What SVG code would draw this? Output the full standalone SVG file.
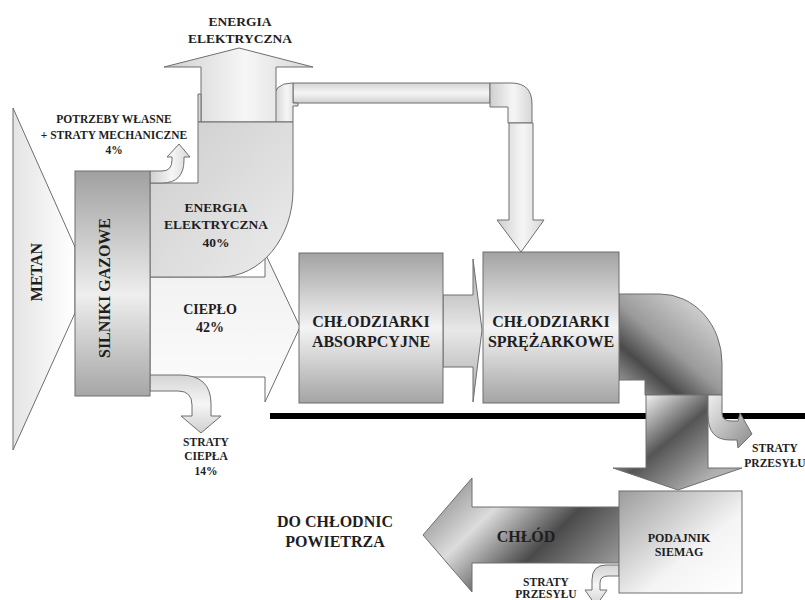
<svg xmlns="http://www.w3.org/2000/svg" width="805" height="600" viewBox="0 0 805 600">
<style>
text{font-family:"Liberation Serif","DejaVu Serif",serif;font-weight:bold;fill:#1e1e1e;text-anchor:middle}
.s{stroke:#6e6e6e;stroke-width:1}
.t11{font-size:11.5px}
.t12{font-size:12px}
.t13{font-size:13.5px}
.t14{font-size:14px}
.t16{font-size:16px}
</style>
<defs>
<linearGradient id="gBox" x1="0" y1="0" x2="0" y2="1">
<stop offset="0" stop-color="#a2a2a2"/><stop offset="0.5" stop-color="#f4f4f4"/><stop offset="1" stop-color="#a4a4a4"/>
</linearGradient>
<linearGradient id="gSil" x1="0" y1="0" x2="0" y2="1">
<stop offset="0" stop-color="#a0a0a0"/><stop offset="0.55" stop-color="#eeeeee"/><stop offset="1" stop-color="#a6a6a6"/>
</linearGradient>
<linearGradient id="gMet" x1="0" y1="0" x2="1" y2="0">
<stop offset="0" stop-color="#e4e4e4"/><stop offset="1" stop-color="#ffffff"/>
</linearGradient>
<linearGradient id="gLightH" x1="0" y1="0" x2="1" y2="0">
<stop offset="0" stop-color="#cfcfcf"/><stop offset="0.55" stop-color="#f6f6f6"/><stop offset="1" stop-color="#d6d6d6"/>
</linearGradient>
<linearGradient id="gLightV" x1="0" y1="0" x2="0" y2="1">
<stop offset="0" stop-color="#d4d4d4"/><stop offset="0.5" stop-color="#f6f6f6"/><stop offset="1" stop-color="#d0d0d0"/>
</linearGradient>
<linearGradient id="gQuarter" x1="0" y1="0" x2="1" y2="1">
<stop offset="0" stop-color="#cdcdcd"/><stop offset="1" stop-color="#ececec"/>
</linearGradient>
<linearGradient id="gHeat" x1="0" y1="0" x2="0" y2="1">
<stop offset="0" stop-color="#f0f0f0"/><stop offset="1" stop-color="#fcfcfc"/>
</linearGradient>
<linearGradient id="gMid" x1="0" y1="0" x2="0" y2="1">
<stop offset="0" stop-color="#a8a8a8"/><stop offset="0.5" stop-color="#e8e8e8"/><stop offset="1" stop-color="#a8a8a8"/>
</linearGradient>
<linearGradient id="gElbow" gradientUnits="userSpaceOnUse" x1="640" y1="395" x2="720" y2="300">
<stop offset="0" stop-color="#8c8c8c"/><stop offset="0.2" stop-color="#4a4a4a"/><stop offset="0.45" stop-color="#9a9a9a"/><stop offset="1" stop-color="#e2e2e2"/>
</linearGradient>
<linearGradient id="gDown" gradientUnits="userSpaceOnUse" x1="646" y1="395" x2="712" y2="475">
<stop offset="0" stop-color="#f2f2f2"/><stop offset="0.48" stop-color="#555555"/><stop offset="1" stop-color="#b0b0b0"/>
</linearGradient>
<linearGradient id="gCold" x1="0" y1="0.2" x2="1" y2="0.8">
<stop offset="0" stop-color="#8c8c8c"/><stop offset="0.3" stop-color="#dcdcdc"/><stop offset="0.62" stop-color="#4a4a4a"/><stop offset="1" stop-color="#a0a0a0"/>
</linearGradient>
<linearGradient id="gPod" x1="0" y1="0" x2="1" y2="1">
<stop offset="0" stop-color="#9c9c9c"/><stop offset="0.6" stop-color="#f4f4f4"/><stop offset="1" stop-color="#ffffff"/>
</linearGradient>
<linearGradient id="gSmall" x1="0" y1="0" x2="1" y2="1">
<stop offset="0" stop-color="#f0f0f0"/><stop offset="1" stop-color="#8a8a8a"/>
</linearGradient>
</defs>
<rect width="805" height="600" fill="#ffffff"/>

<!-- separator line -->
<rect x="270" y="413" width="535" height="6" fill="#000"/>

<g id="connectors">
<path class="s" fill="url(#gLightV)" d="M293,83 L490,83 L490,103 L293,103 Z"/>
<path class="s" fill="url(#gLightH)" d="M273,122 L273,102 Q273,83 292,83 L293,83 L293,103 L298,103 L298,106 L293,106 L293,122 Z"/>
<path class="s" fill="url(#gLightH)" d="M490,83 L511,83 Q532,83 532,104 L532,123 L508,123 L508,107 L490,107 Z"/>
<path class="s" fill="url(#gLightH)" d="M509,123 L533,123 L533,220 L544,220 L521,252 L497,220 L509,220 Z"/>
<path class="s" fill="url(#gLightH)" d="M164,67 L239,48 L313,67 L276,67 L276,122 L201,122 L201,67 Z"/>
<path class="s" fill="#d8d8d8" d="M198,94 L201,94 L201,122 L198,122 Z"/>
<path class="s" fill="url(#gHeat)" d="M150,277 L265,277 L265,253 L300,327 L265,402 L265,377 L150,377 Z"/>
<path class="s" fill="url(#gQuarter)" d="M150,183 L198,183 L198,122 L293,122 L293,190 A72,87 0 0 1 221,277 L150,277 Z"/>
<path class="s" fill="url(#gLightH)" d="M150,171 L162,171 Q172,171 172,160 L172,157 L167,157 L179,144 L190,157 L184,157 L184,160 Q184,183 162,183 L150,183 Z"/>
<path class="s" fill="url(#gLightV)" d="M150,375 L180,375 Q211,375 211,404 L211,416 L221,416 L201,433 L181,416 L192,416 L192,405 Q192,391 178,391 L150,391 Z"/>
<path class="s" fill="url(#gMid)" d="M443,295 L473,295 L473,259 L482,330 L473,402 L473,367 L443,367 Z"/>
<path class="s" fill="url(#gElbow)" d="M619,294 L660,294 A62,69 0 0 1 722,363 L722,395 L645,395 L645,380 L619,380 Z"/>
<path class="s" fill="url(#gDown)" d="M646,395 L708,395 L708,468 L742,468 L678,490 L613,468 L646,468 Z"/>
<path class="s" fill="url(#gSmall)" d="M708,395 L722,395 L722,413 Q722,421 731,421 L738,421 L740,413 L752,434 L738,448 L737,440 L730,440 Q708,440 708,415 Z"/>
<path class="s" fill="url(#gCold)" d="M619,507 L472,507 L472,478 L423,535 L472,592 L472,563 L619,563 Z"/>
<path class="s" fill="url(#gLightV)" d="M619,565 L606,565 Q592,565 592,580 L592,590 L585,590 L596,606 L607,590 L600,590 L600,583 Q600,576 608,576 L619,576 Z"/>
</g>

<g font-family="'Liberation Serif','DejaVu Serif',serif" font-weight="bold">
<g id="metan">
<path class="s" fill="url(#gMet)" d="M13,108 L75,247 L75,313 L13,450 Z"/>
<text class="t16" transform="translate(42,272) rotate(-90)">METAN</text>
</g>

<g id="silniki-gazowe">
<rect class="s" x="75" y="171" width="75" height="225" fill="url(#gSil)"/>
<text class="t16" transform="translate(110,288) rotate(-90)">SILNIKI GAZOWE</text>
</g>

<g id="chlodziarki-absorpcyjne">
<rect class="s" x="299" y="253" width="144" height="150" fill="url(#gBox)"/>
<text class="t16" x="371" y="327">CHŁODZIARKI</text>
<text class="t16" x="371" y="347">ABSORPCYJNE</text>
</g>

<g id="chlodziarki-sprezarkowe">
<rect class="s" x="483" y="252" width="136" height="151" fill="url(#gBox)"/>
<text class="t16" x="551" y="327">CHŁODZIARKI</text>
<text class="t16" x="551" y="347">SPRĘŻARKOWE</text>
</g>

<g id="podajnik-siemag">
<rect class="s" x="619" y="491" width="123" height="102" fill="url(#gPod)"/>
<text class="t12" x="679" y="542">PODAJNIK</text>
<text class="t12" x="679" y="556">SIEMAG</text>
</g>

<g id="labels">
<text class="t13" x="240" y="26">ENERGIA</text>
<text class="t13" x="240" y="43">ELEKTRYCZNA</text>
<text class="t11" x="114" y="123">POTRZEBY WŁASNE</text>
<text class="t11" x="114" y="139">+ STRATY MECHANICZNE</text>
<text class="t11" x="114" y="154">4%</text>
<text class="t13" x="216" y="212">ENERGIA</text>
<text class="t13" x="216" y="229">ELEKTRYCZNA</text>
<text class="t13" x="216" y="247">40%</text>
<text class="t14" x="210" y="314">CIEPŁO</text>
<text class="t14" x="210" y="332">42%</text>
<text class="t11" x="206" y="446">STRATY</text>
<text class="t11" x="206" y="460">CIEPŁA</text>
<text class="t11" x="206" y="475">14%</text>
<text class="t11" x="775" y="452">STRATY</text>
<text class="t11" x="775" y="467">PRZESYŁU</text>
<text class="t16" x="335" y="527">DO CHŁODNIC</text>
<text class="t16" x="335" y="547">POWIETRZA</text>
<text class="t16" x="526" y="542">CHŁÓD</text>
<text class="t11" x="546" y="586">STRATY</text>
<text class="t11" x="546" y="598">PRZESYŁU</text>
</g>
</g>
</svg>
